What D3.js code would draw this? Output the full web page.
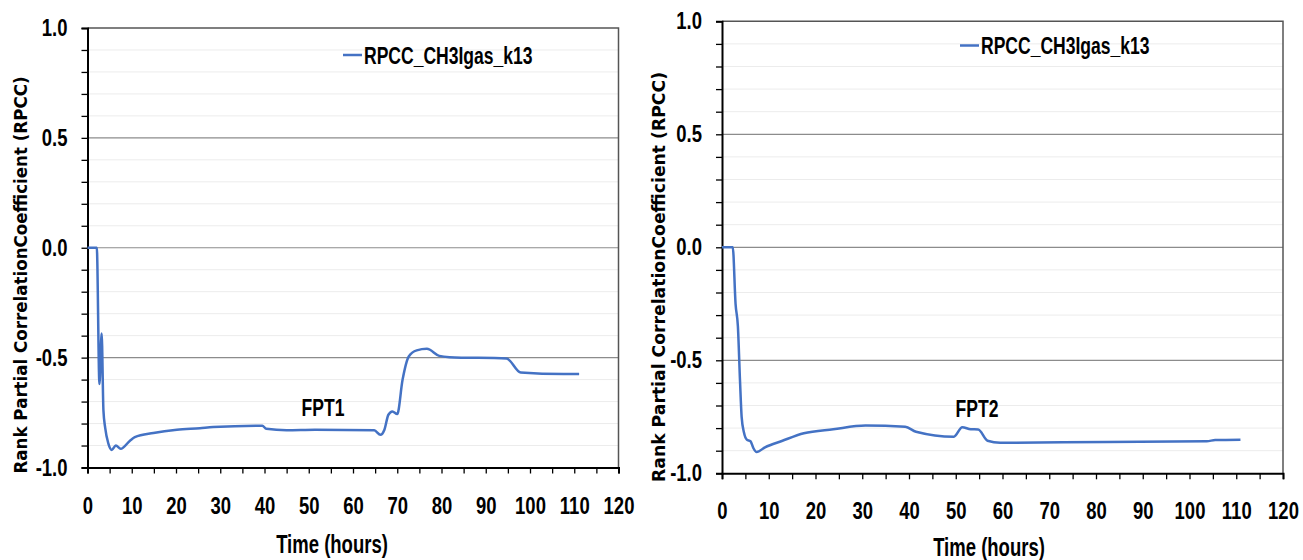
<!DOCTYPE html>
<html>
<head>
<meta charset="utf-8">
<script src="https://cdn.jsdelivr.net/npm/d3@7"></script>
<style>
  body { margin: 0; background: #fff; }
  svg { display: block; }
  .num, .lbl { font-family: "Liberation Sans", Arial, sans-serif; font-weight: bold; fill: #000; }
  .ytitle { font-family: "DejaVu Sans", Verdana, sans-serif; font-weight: bold; fill: #000; }
</style>
</head>
<body>
<svg id="chart" width="1303" height="560"></svg>
<script>
// FPT1 run (left panel)
var fpt1Time = [0, 2.1, 2.7, 3.2, 3.6, 4.0, 4.7, 5.5, 6.4, 7.5, 9.6, 10.7, 14.9, 20.2, 25.4, 28.4, 39.5, 40.4, 45.0, 51.4,
                64.8, 66.2, 67.1, 68.0, 68.9, 70.0, 71.2, 72.6, 74.4, 76.7, 79.5, 81.8, 94.7, 97.9, 107.6, 111.1];
var fpt1Rpcc = [0, 0, -0.62, -0.39, -0.74, -0.82, -0.89, -0.92, -0.90, -0.915, -0.878, -0.862, -0.843, -0.828, -0.821, -0.816, -0.810, -0.824, -0.830, -0.828,
                -0.831, -0.851, -0.828, -0.760, -0.745, -0.757, -0.601, -0.495, -0.467, -0.460, -0.492, -0.498, -0.504, -0.568, -0.575, -0.575];

// FPT2 run (right panel)
var fpt2Time = [0, 2.3, 2.9, 3.4, 3.85, 4.2, 4.7, 5.3, 6.1, 6.7, 7.4, 9.2, 12.8, 17.5, 23.8, 30.7, 39.2, 41.5, 49.6, 51.4,
                53.2, 54.8, 56.8, 59.5, 73.0, 103.7, 105.5, 110.9];
var fpt2Rpcc = [0, 0, -0.25, -0.35, -0.59, -0.75, -0.82, -0.851, -0.858, -0.888, -0.906, -0.885, -0.857, -0.823, -0.805, -0.789, -0.794, -0.816, -0.838, -0.796,
                -0.805, -0.806, -0.856, -0.865, -0.863, -0.858, -0.853, -0.851];

var xTicks = [0, 10, 20, 30, 40, 50, 60, 70, 80, 90, 100, 110, 120];
var xMinor = [5, 15, 25, 35, 45, 55, 65, 75, 85, 95, 105, 115];
var yTicks = [-1, -0.5, 0, 0.5, 1];
var yMinor = [-0.9, -0.8, -0.7, -0.6, -0.4, -0.3, -0.2, -0.1, 0.1, 0.2, 0.3, 0.4, 0.6, 0.7, 0.8, 0.9];

var seriesName = "RPCC_CH3Igas_k13";
var yTitle = "Rank Partial CorrelationCoefficient (RPCC)";
var xTitle = "Time (hours)";

var svg = d3.select("#chart");

// the original uses a narrow bold face, so squeeze the glyphs a bit
function squeeze(sel, k) {
  sel.each(function() {
    var w = this.getComputedTextLength();
    d3.select(this).attr("textLength", w * k).attr("lengthAdjust", "spacingAndGlyphs");
  });
}

var panels = [
  {time: fpt1Time, rpcc: fpt1Rpcc, tag: "FPT1",
   x0: 87.5, x1: 618.5, y0: 467.5, y1: 28,
   tagX: 323, tagY: 416, legX: 343, legY: 55, yTitleX: 27, yTitleY: 275, yTitleLen: 397, xTitleX: 332, xTitleY: 553},
  {time: fpt2Time, rpcc: fpt2Rpcc, tag: "FPT2",
   x0: 722, x1: 1283, y0: 473.3, y1: 21.3,
   tagX: 977, tagY: 417, legX: 960, legY: 45.5, yTitleX: 665, yTitleY: 277, yTitleLen: 410, xTitleX: 989, xTitleY: 556}
];

panels.forEach(function(p) {
  var x = d3.scaleLinear().domain([0, 120]).range([p.x0, p.x1]);
  var y = d3.scaleLinear().domain([-1, 1]).range([p.y0, p.y1]);
  var g = svg.append("g");

  // minor gridlines
  g.selectAll(".gm").data(yMinor).enter().append("line")
      .attr("x1", p.x0).attr("x2", p.x1)
      .attr("y1", function(d) { return y(d); }).attr("y2", function(d) { return y(d); })
      .attr("stroke", "#ececec").attr("stroke-width", 1);

  // major gridlines
  g.selectAll(".gM").data(yTicks.filter(function(d) { return d > -1 && d < 1; })).enter().append("line")
      .attr("x1", p.x0).attr("x2", p.x1)
      .attr("y1", function(d) { return y(d); }).attr("y2", function(d) { return y(d); })
      .attr("stroke", "#8c8c8c").attr("stroke-width", 1.2);

  // top and right frame
  g.append("path")
      .attr("d", "M" + p.x0 + "," + p.y1 + "H" + p.x1 + "V" + p.y0)
      .attr("fill", "none").attr("stroke", "#555").attr("stroke-width", 1.5);

  // y axis
  var ya = g.append("g").attr("transform", "translate(" + p.x0 + ",0)")
      .call(d3.axisLeft(y).tickValues(yTicks).tickSize(6).tickPadding(14)
        .tickFormat(function(d) { return d.toFixed(1); }));
  g.append("g").attr("transform", "translate(" + p.x0 + ",0)")
      .call(d3.axisLeft(y).tickValues(yMinor).tickSize(6).tickFormat(""))
      .select(".domain").remove();

  // x axis
  var xa = g.append("g").attr("transform", "translate(0," + p.y0 + ")")
      .call(d3.axisBottom(x).tickValues(xTicks).tickSize(6).tickPadding(23)
        .tickFormat(function(d) { return d; }));
  g.append("g").attr("transform", "translate(0," + p.y0 + ")")
      .call(d3.axisBottom(x).tickValues(xMinor).tickSize(6).tickFormat(""))
      .select(".domain").remove();

  [ya, xa].forEach(function(a) {
    a.select(".domain").attr("stroke", "#000").attr("stroke-width", 2);
    a.selectAll("text").attr("class", "num").style("font-size", "24px").call(squeeze, 0.77);
  });
  g.selectAll(".tick line").attr("stroke", "#000").attr("stroke-width", 1.3);

  // series
  var line = d3.line()
      .x(function(d, i) { return x(p.time[i]); })
      .y(function(d) { return y(d); })
      .curve(d3.curveMonotoneX);
  g.append("path")
      .datum(p.rpcc)
      .attr("fill", "none")
      .attr("stroke", "#4472c4")
      .attr("stroke-width", 2.5)
      .attr("stroke-linejoin", "round")
      .attr("d", line);

  // legend
  g.append("line")
      .attr("x1", p.legX).attr("x2", p.legX + 19)
      .attr("y1", p.legY).attr("y2", p.legY)
      .attr("stroke", "#4472c4").attr("stroke-width", 2.5);
  g.append("text").attr("class", "lbl")
      .attr("x", p.legX + 21).attr("y", p.legY + 8.5)
      .style("font-size", "24px")
      .text(seriesName)
      .call(squeeze, 0.73);

  // annotation
  g.append("text").attr("class", "lbl")
      .attr("x", p.tagX).attr("y", p.tagY)
      .attr("text-anchor", "middle")
      .style("font-size", "24px")
      .text(p.tag)
      .call(squeeze, 0.73);

  // axis titles
  g.append("text").attr("class", "lbl")
      .attr("x", p.xTitleX).attr("y", p.xTitleY)
      .attr("text-anchor", "middle")
      .style("font-size", "25px")
      .text(xTitle)
      .call(squeeze, 0.74);
  g.append("text").attr("class", "ytitle")
      .attr("transform", "translate(" + p.yTitleX + "," + p.yTitleY + ") rotate(-90)")
      .attr("text-anchor", "middle")
      .style("font-size", "17px")
      .attr("textLength", p.yTitleLen).attr("lengthAdjust", "spacingAndGlyphs")
      .text(yTitle);
});
</script>
</body>
</html>
